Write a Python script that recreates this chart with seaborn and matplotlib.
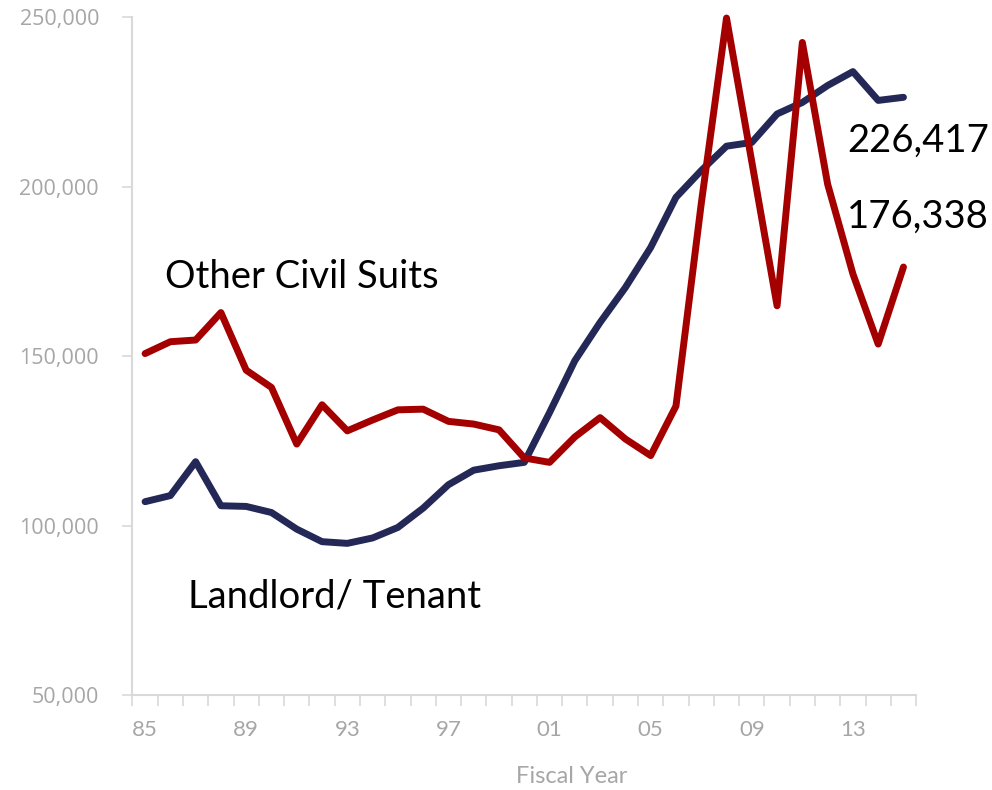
import numpy as np
import pandas as pd
import matplotlib.pyplot as plt
import seaborn as sns
from matplotlib.ticker import FixedLocator, FuncFormatter

# Fiscal years 1985 - 2015
years = list(range(1985, 2016))

# Landlord/Tenant filings (navy line)
landlord_tenant = [107100, 108900, 118900, 105900, 105700, 103900, 99000, 95300,
                   94800, 96400, 99500, 105200, 112100, 116400, 117700, 118700,
                   133400, 148700, 160000, 170300, 182100, 196900, 204800, 212000,
                   213100, 221500, 224900, 229900, 234000, 225500, 226417]

# Other civil suits (red line)
other_civil = [150800, 154300, 154800, 162900, 145900, 140800, 124100, 135700,
               128000, 131200, 134200, 134400, 130800, 130000, 128300, 120000,
               118700, 126200, 131900, 125600, 120700, 135300, 195000, 249800,
               207400, 164900, 242600, 200800, 174300, 153600, 176338]

series_names = ['Landlord/ Tenant', 'Other Civil Suits']
series_colors = ['#232856', '#A50000']

df = pd.DataFrame({
    'year': years * 2,
    'filings': landlord_tenant + other_civil,
    'series': [series_names[0]] * len(years) + [series_names[1]] * len(years),
})

sns.set_style('white')
plt.rcParams['font.family'] = ['Lato', 'DejaVu Sans']

fig = plt.figure(figsize=(9.92, 7.9), dpi=100)
ax = fig.add_axes([0.1335, 0.12, 0.79, 0.858])

sns.lineplot(data=df, x='year', y='filings', hue='series',
             palette=dict(zip(series_names, series_colors)),
             linewidth=5, legend=False, ax=ax, clip_on=False,
             solid_joinstyle='round', solid_capstyle='round')

ax.set_xlim(years[0] - 0.5, years[-1] + 0.5)
ax.set_ylim(50000, 250000)

# y axis
ax.set_yticks(np.arange(50000, 250001, 50000))
ax.yaxis.set_major_formatter(FuncFormatter(lambda v, p: f'{int(v):,}'))
ax.tick_params(axis='y', which='major', left=True, length=7, width=1.2,
               color='#D9D9D9', labelcolor='#A6A6A6', labelsize=15.5, pad=17,
               labelfontfamily='Open Sans')

# x axis: tick marks between categories, labels every 4 years
ax.xaxis.set_major_locator(FixedLocator(years[::4]))
ax.xaxis.set_major_formatter(FuncFormatter(lambda v, p: f'{int(round(v)) % 100:02d}'))
ax.xaxis.set_minor_locator(FixedLocator(np.arange(years[0] - 0.5, years[-1] + 1, 1)))
ax.tick_params(axis='x', which='major', bottom=True, length=0, labelcolor='#A6A6A6',
               labelsize=16, pad=18)
ax.tick_params(axis='x', which='minor', bottom=True, length=8, width=1.2, color='#D9D9D9')

ax.set_xlabel('Fiscal Year', color='#A6A6A6', fontsize=17)
ax.xaxis.set_label_coords(0.56, -0.105)
ax.set_ylabel('')

for side in ['top', 'right']:
    ax.spines[side].set_visible(False)
for side in ['left', 'bottom']:
    ax.spines[side].set_color('#D9D9D9')
    ax.spines[side].set_linewidth(1.5)

# annotations
ax.text(1985.8, 173500, 'Other Civil Suits', fontsize=27.5, color='black',
        va='center', ha='left')
ax.text(1986.7, 79000, 'Landlord/ Tenant', fontsize=27.5, color='black',
        va='center', ha='left')
ax.text(2012.78, 213600, f'{landlord_tenant[-1]:,}', fontsize=27.5, color='black',
        va='center', ha='left')
ax.text(2012.78, 191100, f'{other_civil[-1]:,}', fontsize=27.5, color='black',
        va='center', ha='left')

plt.savefig('out.png', dpi=100)
